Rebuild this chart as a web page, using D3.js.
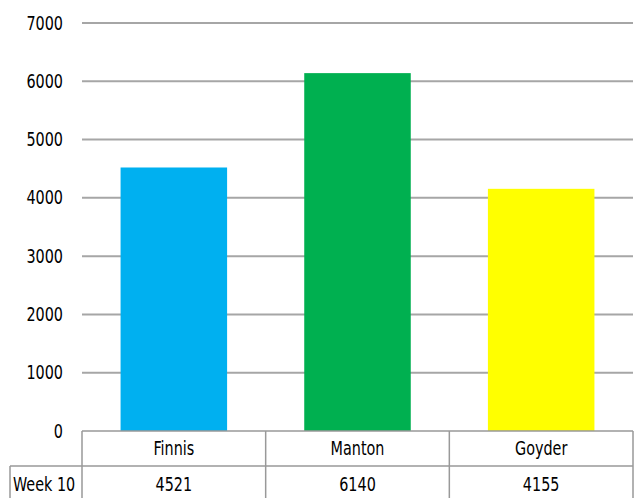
<!DOCTYPE html>
<html>
<head>
<meta charset="utf-8">
<script src="https://cdn.jsdelivr.net/npm/d3@7"></script>
<style>
  body { margin: 0; background: #fff; }
  text { font-family: "DejaVu Sans Condensed", "Liberation Sans", Arial, sans-serif; font-size: 16px; fill: #000; }
</style>
</head>
<body>
<svg id="chart" width="636" height="498"></svg>
<script>
// Data
const categories = ["Finnis", "Manton", "Goyder"];
const seriesName = "Week 10";
const values = [4521, 6140, 4155];
const colors = ["#00B0F0", "#00B050", "#FFFF00"];
const yTicks = [0, 1000, 2000, 3000, 4000, 5000, 6000, 7000];

const svg = d3.select("#chart");
const plotLeft = 82, plotRight = 633, plotTop = 23, plotBottom = 431;
const rowH = 35, labelLeft = 10;
const grid = "#a6a6a6";
const stretch = "scale(1,1.18)"; // text in the picture is drawn tall and narrow

const x = d3.scaleBand().domain(categories).range([plotLeft, plotRight])
  .paddingInner(0.42).paddingOuter(0.21);
const y = d3.scaleLinear().domain([0, 7000]).range([plotBottom, plotTop]);

// Gridlines
svg.append("g")
  .selectAll("line")
  .data(yTicks.filter((d) => d > 0))
  .join("line")
  .attr("x1", plotLeft).attr("x2", plotRight)
  .attr("y1", (d) => y(d)).attr("y2", (d) => y(d))
  .attr("stroke", grid).attr("stroke-width", 2);

// Y axis labels
const yAxis = svg.append("g")
  .attr("transform", `translate(${plotLeft - 19},0)`)
  .call(d3.axisLeft(y).tickValues(yTicks).tickSize(0).tickPadding(0).tickFormat(d3.format("d")));
yAxis.select(".domain").remove();
yAxis.selectAll("text")
  .attr("dy", "0.32em")
  .attr("transform", stretch)
  .style("font-size", "16px")
  .style("font-family", "'DejaVu Sans Condensed', 'Liberation Sans', Arial, sans-serif");

// Bars
svg.append("g")
  .selectAll("rect")
  .data(values)
  .join("rect")
  .attr("x", (d, i) => x(categories[i]))
  .attr("width", x.bandwidth())
  .attr("y", (d) => y(d))
  .attr("height", (d) => y(0) - y(d))
  .attr("fill", (d, i) => colors[i]);

// Data table
const step = x.step();
const colLeft = (i) => plotLeft + i * step;
const tbl = svg.append("g").attr("stroke", "#999").attr("stroke-width", 1.5).attr("fill", "none");
tbl.append("line").attr("x1", plotLeft).attr("x2", plotRight).attr("y1", plotBottom).attr("y2", plotBottom);
tbl.append("line").attr("x1", labelLeft).attr("x2", plotRight).attr("y1", plotBottom + rowH).attr("y2", plotBottom + rowH);
tbl.append("line").attr("x1", labelLeft).attr("x2", labelLeft).attr("y1", plotBottom + rowH).attr("y2", 498);
tbl.selectAll(".v")
  .data(d3.range(categories.length + 1))
  .join("line")
  .attr("class", "v")
  .attr("x1", (d) => colLeft(d)).attr("x2", (d) => colLeft(d))
  .attr("y1", plotBottom).attr("y2", 498);

const cell = (g, px, py) => g.attr("transform", `translate(${px},${py}) ${stretch}`);

svg.append("g")
  .selectAll("text")
  .data(categories)
  .join("text")
  .call((t) => t.attr("transform", (d) => `translate(${x(d) + x.bandwidth() / 2},${plotBottom + rowH / 2}) ${stretch}`))
  .attr("dy", "0.35em")
  .attr("text-anchor", "middle")
  .text((d) => d);

svg.append("g")
  .selectAll("text")
  .data(values)
  .join("text")
  .attr("transform", (d, i) => `translate(${x(categories[i]) + x.bandwidth() / 2},${plotBottom + rowH * 1.5 + 1}) ${stretch}`)
  .attr("dy", "0.35em")
  .attr("text-anchor", "middle")
  .text((d) => d);

svg.append("text")
  .call(cell, labelLeft + 3, plotBottom + rowH * 1.5 + 1)
  .attr("dy", "0.35em")
  .text(seriesName);
</script>
</body>
</html>
